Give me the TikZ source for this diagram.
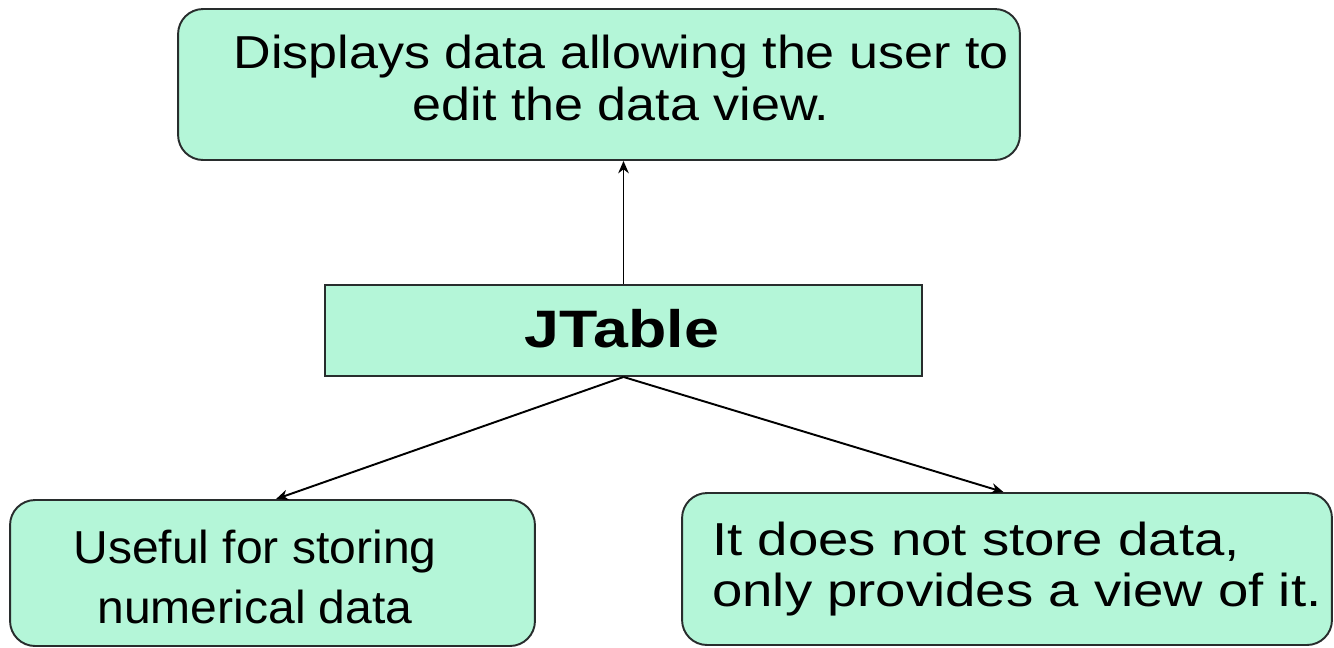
\documentclass[tikz,border=0pt]{standalone}
\usepackage{fontspec}
\setmainfont{Liberation Sans}
\newfontfamily\topfont[FakeStretch=1.126]{Liberation Sans}
\newfontfamily\blfont[FakeStretch=1.04]{Liberation Sans}
\newfontfamily\brfont[FakeStretch=1.18]{Liberation Sans}
\newfontfamily\jtfont[FakeStretch=1.19]{Liberation Sans}
\usetikzlibrary{arrows.meta}
\definecolor{mint}{RGB}{180,246,216}
\definecolor{edge}{RGB}{40,45,45}
\begin{document}
\begin{tikzpicture}[x=0.02cm,y=-0.02cm,
  box/.style={draw=edge,fill=mint,line width=1.1pt,inner sep=0pt},
  rbox/.style={box,rounded corners=0.5cm},
  txt/.style={inner sep=0pt,anchor=base,font=\fontsize{26.3}{30}\selectfont},
  conn/.style={draw=black,line width=1.1pt,-{Stealth[length=7pt,width=6pt]}}]
\useasboundingbox (0,0) rectangle (1334,647);
\node[rbox,minimum width=16.84cm,minimum height=3.02cm] (top) at (599,84.5) {};
\node[box,minimum width=11.94cm,minimum height=1.82cm] (jt) at (623.5,330.5) {};
\node[rbox,minimum width=10.5cm,minimum height=2.92cm] (bl) at (272.5,573) {};
\node[rbox,minimum width=13.0cm,minimum height=3.04cm] (br) at (1007,569) {};
\node[txt] (top1) at (621,68) {\topfont Displays data allowing the user to};
\node[txt] (top2) at (621,120) {\topfont edit the data view.};
\node[txt,font=\fontsize{30}{34}\selectfont\bfseries] (jtt) at (622,347) {\jtfont\bfseries JTable};
\node[txt] (bl1) at (255,563) {\blfont Useful for storing};
\node[txt] (bl2) at (255,623) {\blfont numerical data};
\node[txt,anchor=base west] (br1) at (712,555) {\brfont It does not store data,};
\node[txt,anchor=base west] (br2) at (712,606) {\brfont only provides a view of it.};
\draw[conn] (jt.north) -- (jt.north |- top.south);
\draw[conn] (jt.south) -- ([xshift=2]bl.north);
\draw[conn] (jt.south) -- ([xshift=-2]br.north);
\end{tikzpicture}
\end{document}
